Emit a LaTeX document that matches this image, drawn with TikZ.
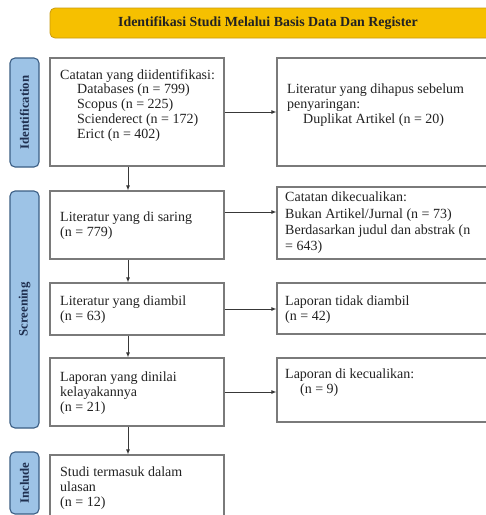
\documentclass[tikz,border=0pt]{standalone}
\usepackage{fontspec}
\setmainfont{Liberation Serif}
\usetikzlibrary{arrows.meta}
\definecolor{hdrfill}{HTML}{F6C000}
\definecolor{hdrdraw}{HTML}{C99A10}
\definecolor{lblfill}{HTML}{9DC3E6}
\definecolor{lbldraw}{HTML}{3B5E84}
\definecolor{lbltext}{HTML}{1F2F4F}
\definecolor{boxdraw}{HTML}{7A7A7A}
\definecolor{txt}{HTML}{222222}
\begin{document}
\begin{tikzpicture}[x=1pt,y=-1pt,
  box/.style={draw=boxdraw,line width=1.2pt,fill=white,inner sep=0pt},
  lbl/.style={draw=lbldraw,line width=1.1pt,fill=lblfill,rounded corners=5pt,inner sep=0pt,minimum width=29pt},
  lbltxt/.style={rotate=90,font=\fontsize{12.8}{14}\selectfont\bfseries,text=lbltext,inner sep=0pt},
  btxt/.style={anchor=north west,align=left,inner sep=0pt,text=txt,font=\fontsize{14}{14.8}\selectfont},
  arr/.style={draw=txt!90,line width=0.9pt,-{Latex[length=5pt,width=4pt]}}]
\useasboundingbox (0,0) rectangle (486,515);
\fill[white] (0,0) rectangle (486,515);
% header
\node[draw=hdrdraw,line width=0.8pt,fill=hdrfill,rounded corners=5pt,minimum width=450pt,minimum height=30pt,inner sep=0pt] (hdr) at (275,23) {};
\node[font=\fontsize{13.9}{15}\selectfont\bfseries,text=txt,inner sep=0pt] (hdrt) at (268,23) {Identifikasi Studi Melalui Basis Data Dan Register};
% side labels
\node[lbl,minimum height=109pt] (l1) at (24.5,112.5) {};
\node[lbltxt] (l1t) at (l1.center) {Identification};
\node[lbl,minimum height=237pt] (l2) at (24.5,309.5) {};
\node[lbltxt] (l2t) at (l2.center) {Screening};
\node[lbl,minimum height=62pt] (l3) at (24.5,483) {};
\node[lbltxt] (l3t) at (l3.center) {Include};
% left boxes
\node[box,minimum width=174pt,minimum height=108pt] (b1) at (137,112) {};
\node[box,minimum width=174pt,minimum height=68pt] (b2) at (137,225) {};
\node[box,minimum width=174pt,minimum height=52pt] (b3) at (137,309) {};
\node[box,minimum width=174pt,minimum height=68pt] (b4) at (137,392) {};
\node[box,minimum width=174pt,minimum height=70pt] (b5) at (137,490) {};
% right boxes
\node[box,minimum width=223pt,minimum height=108pt] (r1) at (388.5,112) {};
\node[box,minimum width=223pt,minimum height=72pt] (r2) at (388.5,223) {};
\node[box,minimum width=223pt,minimum height=51pt] (r3) at (388.5,308.5) {};
\node[box,minimum width=223pt,minimum height=64pt] (r4) at (388.5,390) {};
% texts
\node[btxt] (t1) at (60,69) {Catatan yang diidentifikasi:\\
  \hspace*{17pt}Databases (n = 799)\\
  \hspace*{17pt}Scopus (n = 225)\\
  \hspace*{17pt}Scienderect (n = 172)\\
  \hspace*{17pt}Erict (n = 402)};
\node[btxt] (tr1) at (287,84) {Literatur yang dihapus sebelum\\
  penyaringan:\\
  \hspace*{16pt}Duplikat Artikel (n = 20)};
\node[btxt] (t2) at (60,212) {Literatur yang di saring\\(n = 779)};
\node[btxt,font=\fontsize{14}{16.3}\selectfont] (tr2) at (285,192) {Catatan dikecualikan:\\
  Bukan Artikel/Jurnal (n = 73)\\
  Berdasarkan judul dan abstrak (n\\
  = 643)};
\node[btxt] (t3) at (60,296) {Literatur yang diambil\\(n = 63)};
\node[btxt] (tr3) at (285,296) {Laporan tidak diambil\\(n = 42)};
\node[btxt] (t4) at (60,372) {Laporan yang dinilai\\kelayakannya\\(n = 21)};
\node[btxt] (tr4) at (285,369) {Laporan di kecualikan:\\\hspace*{15pt}(n = 9)};
\node[btxt] (t5) at (60,467) {Studi termasuk dalam\\ulasan\\(n = 12)};
% arrows
\coordinate (vx) at (128,0);
\draw[arr] (b1.south -| vx) -- (b2.north -| vx);
\draw[arr] (b2.south -| vx) -- (b3.north -| vx);
\draw[arr] (b3.south -| vx) -- (b4.north -| vx);
\draw[arr] (b4.south -| vx) -- (b5.north -| vx);
\draw[arr] (b1.east) -- (r1.west);
\coordinate (h2) at (0,212);
\draw[arr] (b2.east |- h2) -- (r2.west |- h2);
\draw[arr] (b3.east) -- (b3.east -| r3.west);
\draw[arr] (b4.east) -- (b4.east -| r4.west);
\end{tikzpicture}
\end{document}
